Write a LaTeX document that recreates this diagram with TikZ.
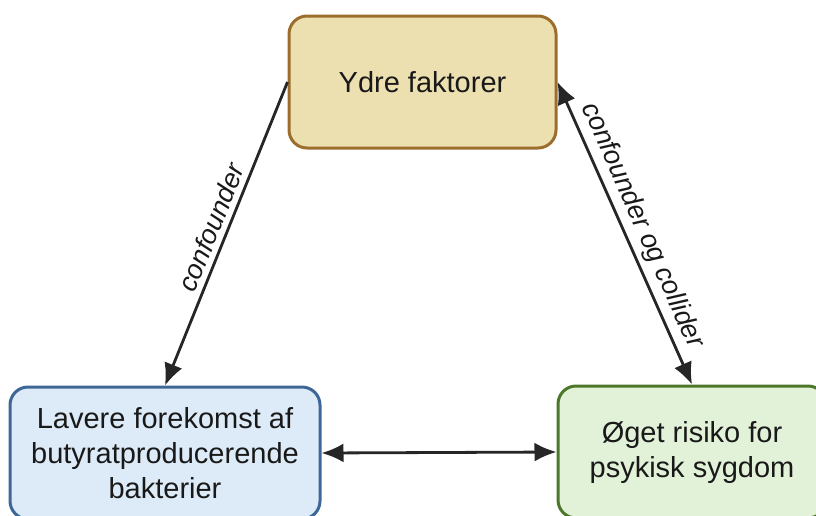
\documentclass[tikz,border=0pt]{standalone}
\usepackage{fontspec}
\setmainfont{Liberation Sans}
\usetikzlibrary{arrows.meta}
\definecolor{ydrefill}{RGB}{237,224,176}
\definecolor{ydreline}{RGB}{155,110,45}
\definecolor{lavfill}{RGB}{221,235,248}
\definecolor{lavline}{RGB}{62,102,150}
\definecolor{risfill}{RGB}{226,242,216}
\definecolor{risline}{RGB}{76,120,42}
\tikzset{
  boks/.style={draw,line width=3pt,rounded corners=18pt,minimum height=132pt,
    align=center,text=black!90,font=\fontsize{29}{35}\selectfont},
  pil/.style={line width=2.8pt,draw=black!85,-{Latex[length=22pt,width=19pt]}},
  dobbeltpil/.style={line width=2.8pt,draw=black!85,{Latex[length=22pt,width=19pt]}-{Latex[length=22pt,width=19pt]}},
  etiket/.style={font=\itshape\fontsize{27}{32}\selectfont,text=black!90,sloped,midway,above,inner sep=5pt}
}
\begin{document}
\begin{tikzpicture}[x=1pt,y=-1pt]
\useasboundingbox (0,0) rectangle (816,515);
\clip (0,0) rectangle (816,515);
\node[boks,fill=ydrefill,draw=ydreline,minimum width=267pt] (ydre) at (422.5,82) {Ydre faktorer};
\node[boks,fill=lavfill,draw=lavline,minimum width=310pt] (lavere) at (165,453) {Lavere forekomst af\\butyratproducerende\\bakterier};
\node[boks,fill=risfill,draw=risline,minimum width=268pt] (risiko) at (692,452) {Øget risiko for\\psykisk sygdom};
% pile
\draw[pil] (ydre.west) -- (lavere.north) node[etiket]{confounder};
\draw[dobbeltpil] (ydre.east) -- (risiko.north) node[etiket]{confounder og collider};
\draw[dobbeltpil] (lavere.east) -- (risiko.west);
\end{tikzpicture}
\end{document}
